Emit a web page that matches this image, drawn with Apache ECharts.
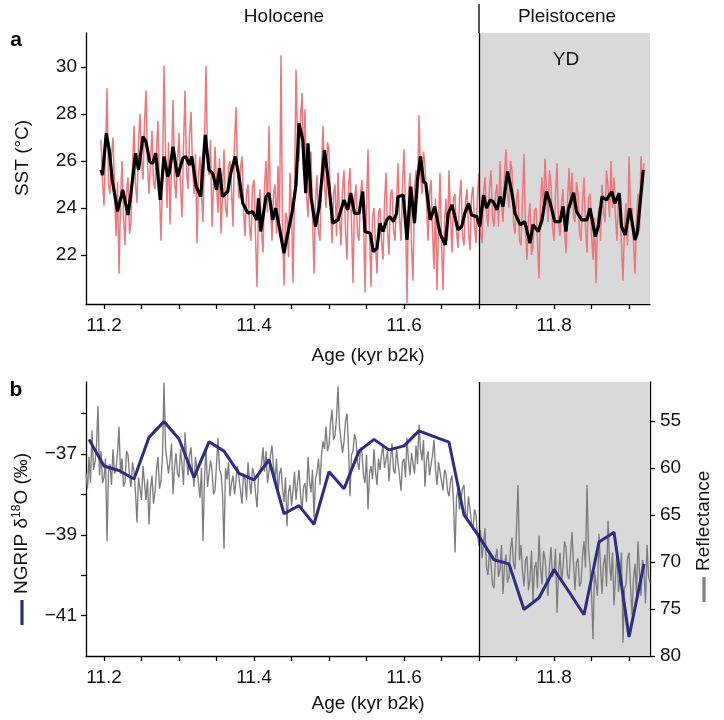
<!DOCTYPE html>
<html>
<head>
<meta charset="utf-8">
<script src="https://cdn.jsdelivr.net/npm/echarts@6/dist/echarts.min.js"></script>
<style>html,body{margin:0;padding:0;background:#fff}#c{width:724px;height:720px}</style>
</head>
<body>
<div id="c"></div>
<script>
// ---------- DATA ----------
// Panel a: SST high-resolution record (red), one value every 0.002 kyr from 11.196
const redStartAge = 11.196;
const redStep = 0.002;
const redSST = [
 26.9,25.2,24.1,26.4,29.1,25.0,24.6,26.2,27.0,24.9,22.8,25.1,21.2,24.3,26.0,23.7,22.4,24.6,25.3,22.9,
 23.4,25.8,27.5,25.0,24.2,26.8,28.0,26.1,25.2,27.6,29.0,25.8,24.6,26.0,27.3,25.1,24.8,26.5,27.7,24.6,
 22.6,25.4,30.05,26.4,24.0,26.8,23.3,25.9,28.6,25.2,24.4,26.0,27.2,24.9,23.6,26.6,29.0,25.6,24.8,27.0,
 28.1,25.8,24.6,26.3,22.5,25.4,26.2,24.6,23.4,26.8,30.05,26.0,25.4,26.9,23.2,24.9,26.6,25.0,23.8,26.1,
 22.9,24.7,26.5,24.0,23.6,25.8,26.0,24.8,23.2,26.7,28.3,25.6,24.4,25.7,26.2,23.9,22.8,24.6,25.0,23.2,
 22.6,24.9,25.2,22.8,20.65,24.0,24.8,23.0,22.1,24.9,26.0,23.8,27.5,24.0,22.6,24.6,25.0,22.9,25.8,23.4,
 30.5,23.2,20.7,23.8,23.6,21.9,25.5,23.9,20.8,24.6,29.9,27.0,26.0,27.8,28.9,25.6,28.2,24.6,23.6,25.8,
 26.4,23.6,21.2,24.4,25.4,23.0,22.6,25.6,27.5,25.0,24.0,26.8,26.4,24.2,22.5,24.6,25.0,22.8,25.5,23.6,
 22.4,24.8,25.6,23.0,21.8,24.9,25.7,23.4,20.8,24.4,25.0,22.9,22.6,24.6,25.2,23.6,20.4,24.0,26.5,22.8,
 20.65,23.6,24.0,22.4,21.2,23.8,24.0,22.6,21.8,24.2,25.5,23.0,22.0,24.6,24.8,23.1,22.6,24.2,25.9,23.6,
 22.6,25.0,26.5,23.8,19.95,24.6,25.5,22.4,20.9,24.8,25.6,24.4,27.96,25.4,24.6,26.4,25.8,24.2,22.6,24.6,
 25.2,23.0,21.4,24.4,20.5,23.2,25.5,22.6,20.5,23.4,24.4,22.6,25.6,23.6,22.1,24.4,24.6,23.0,22.3,24.4,
 25.2,22.8,22.4,24.3,24.8,23.0,22.2,24.5,24.9,23.2,22.5,24.6,25.5,23.0,22.5,24.6,25.3,23.8,23.2,24.9,
 25.6,23.6,23.2,24.6,25.0,23.2,26.0,24.2,23.4,25.4,26.5,24.6,24.0,26.0,25.6,23.4,22.9,24.4,24.8,22.6,
 22.4,24.4,26.3,23.0,21.8,23.6,24.2,22.0,22.4,23.9,24.0,22.6,21.0,24.2,25.3,23.8,26.1,24.8,23.4,25.6,
 25.0,23.2,22.6,24.6,25.9,23.4,22.8,24.2,24.8,23.0,22.07,24.3,25.7,24.0,25.5,23.6,23.4,25.1,24.6,23.0,
 22.6,24.2,25.3,23.2,22.1,24.4,24.6,22.9,21.8,23.6,20.8,23.4,24.0,22.6,25.0,23.8,23.4,25.6,24.9,23.6,
 26.0,24.0,25.3,23.6,22.6,24.6,23.8,22.4,20.9,23.2,24.2,22.4,26.2,23.8,24.0,22.6,21.2,23.4,24.6,23.0,
 26.2,24.8,25.9
];
// Panel a: smoothed SST (black)
const blackAge = [
 11.196,11.198,11.203,11.207,11.211,11.218,11.225,11.232,11.236,11.242,
 11.246,11.252,11.256,11.261,11.265,11.269,11.275,11.280,11.285,11.287,
 11.292,11.298,11.305,11.309,11.314,11.317,11.323,11.329,11.335,11.340,
 11.345,11.350,11.354,11.358,11.365,11.369,11.375,11.380,11.385,11.392,
 11.398,11.404,11.406,11.409,11.416,11.420,11.425,11.429,11.436,11.440,
 11.445,11.451,11.456,11.460,11.465,11.469,11.472,11.476,11.482,11.487,
 11.494,11.500,11.505,11.512,11.516,11.520,11.525,11.529,11.534,11.540,
 11.545,
 11.548,11.555,11.559,11.564,11.568,11.572,11.577,11.581,11.586,11.590,
 11.592,11.599,11.604,11.609,11.614,11.618,11.622,11.626,11.629,11.635,
 11.641,11.648,11.655,11.659,11.664,11.672,11.677,11.681,11.686,11.690,
 11.697,11.701,11.706,11.710,11.715,11.719,11.724,11.728,11.732,11.738,
 11.744,11.748,11.755,11.761,11.768,11.772,11.779,11.784,11.790,11.795,
 11.801,11.808,11.812,11.816,11.819,11.826,11.830,11.837,11.844,11.848,
 11.855,11.859,11.864,11.870,11.877,11.881,11.887,11.890,11.895,11.901,
 11.908,11.911,11.919
];
const blackSST = [
 25.62,25.4,27.18,26.47,25.2,23.85,24.77,23.7,24.63,26.33,
 25.62,27.04,26.82,25.97,25.9,26.33,24.34,26.19,25.33,25.48,
 26.61,25.33,26.11,26.19,25.83,26.19,24.91,24.48,27.11,25.62,
 25.48,24.77,25.69,24.48,24.7,25.48,26.19,25.33,24.2,23.77,
 23.85,23.49,24.41,23.0,24.48,24.63,23.49,23.99,22.78,22.07,
 22.92,23.85,24.98,27.6,26.9,24.63,26.75,24.48,23.21,24.06,
 26.47,24.91,23.35,23.49,23.92,24.34,23.92,24.63,23.77,23.77,
 24.7,
 23.0,22.92,22.14,22.28,23.35,23.0,23.49,23.63,23.42,23.77,
 24.48,24.55,22.64,24.91,23.35,25.19,26.19,25.12,25.05,23.49,
 24.06,22.92,22.43,23.77,24.13,23.07,23.21,23.77,24.2,23.7,
 23.63,23.21,24.55,23.99,24.34,24.27,23.92,24.48,24.06,25.55,
 24.63,23.77,23.28,23.42,22.5,23.28,23.0,23.49,24.7,24.2,
 23.42,23.42,24.06,23.0,23.92,24.65,23.85,23.49,23.49,23.99,
 22.78,23.21,24.48,24.34,24.7,24.2,24.63,23.21,22.85,23.99,
 22.64,22.92,25.62
];
// Panel b: reflectance (grey), one value every 0.002 kyr from 11.176
const reflStartAge = 11.176;
const reflStep = 0.002;
const reflectance = [
 60.5,62.2,58.8,61.6,56.0,60.2,59.4,57.6,53.4,60.8,58.2,61.6,61.0,59.0,67.8,60.4,59.6,61.8,58.0,60.6,
 60.2,58.4,55.6,60.6,59.0,62.0,61.5,58.2,58.6,60.8,62.0,59.4,60.4,62.6,65.8,61.0,61.2,63.4,59.8,61.6,
 63.4,61.2,66.0,62.2,60.8,63.8,62.6,60.2,58.8,62.2,61.4,58.6,50.9,57.8,57.6,60.6,59.2,57.4,62.8,60.0,
 58.4,60.6,61.0,58.0,59.6,61.8,56.2,59.0,60.8,58.6,57.8,60.4,62.0,58.8,59.0,61.6,63.2,60.0,67.8,61.0,
 58.0,62.0,61.8,59.2,60.2,62.8,62.4,59.6,56.8,60.2,60.6,62.6,68.6,60.0,61.2,59.4,63.0,61.6,60.8,62.8,
 62.6,59.8,60.0,62.4,63.8,60.6,61.2,63.4,59.4,61.4,62.8,60.0,60.6,62.6,64.2,60.8,61.0,59.6,57.8,60.4,
 58.2,61.6,60.4,58.6,57.6,60.0,61.2,59.0,62.8,60.6,60.0,62.2,63.6,61.0,66.2,62.6,61.8,64.0,62.4,60.4,
 63.4,61.6,60.2,62.8,64.6,62.0,61.6,63.6,58.8,61.4,62.6,60.2,65.2,61.2,60.4,59.0,61.8,58.6,57.2,58.0,
 55.6,58.2,57.6,55.2,53.8,57.0,56.6,54.6,51.3,55.6,55.8,58.4,57.2,55.0,54.2,57.8,63.0,58.6,58.2,56.4,
 57.0,59.4,60.2,57.8,58.4,60.8,61.6,58.6,64.4,60.6,59.8,61.2,58.0,60.4,61.8,59.0,60.2,58.6,57.6,60.0,
 59.8,58.2,61.4,59.0,57.4,60.2,60.6,58.0,58.2,60.8,62.4,59.4,59.0,61.0,56.8,59.2,60.8,58.4,58.6,60.6,
 57.6,59.6,55.4,58.0,59.2,57.0,62.0,59.2,58.2,60.8,60.6,58.6,57.0,60.2,61.8,59.4,59.6,61.4,62.4,60.2,
 60.6,62.4,63.0,61.4,60.8,63.6,69.0,63.2,62.2,64.4,64.6,62.2,61.8,64.8,65.4,63.0,63.2,65.8,66.6,64.4,
 65.0,67.2,68.2,66.6,69.6,68.0,66.4,70.6,71.4,68.8,70.2,72.4,72.8,69.6,68.6,71.6,70.8,68.2,73.4,70.4,
 69.2,72.2,71.6,68.6,67.4,70.2,70.8,66.4,61.8,69.8,68.2,71.0,72.6,69.8,69.4,73.0,71.8,68.8,74.2,70.6,
 70.0,72.8,67.2,70.6,72.4,68.8,69.6,71.8,73.6,70.4,68.4,71.6,71.2,68.6,75.4,71.2,69.0,72.2,70.6,67.8,
 68.4,71.4,71.8,69.2,66.8,70.2,73.0,70.0,69.6,72.6,72.2,69.4,67.8,70.6,61.8,68.6,70.4,73.2,78.2,71.0,
 70.8,73.6,67.0,70.4,73.4,70.2,69.2,72.6,65.6,70.0,72.0,69.0,74.6,71.6,68.8,73.2,71.4,69.0,78.6,72.8,
 72.4,69.6,69.0,72.6,75.6,71.8,70.2,73.4,67.8,71.2,73.6,69.8,71.0,74.4,68.2,71.4,72.2
];
// Panel b: NGRIP d18O (blue)
const ngripAge = [
 11.18,11.20,11.22,11.24,11.26,11.28,11.30,11.32,11.34,11.36,
 11.38,11.40,11.42,11.44,11.46,11.48,11.50,11.52,11.54,11.56,
 11.58,11.60,11.62,11.64,11.66,11.68,11.70,11.72,11.74,11.76,
 11.78,11.80,11.82,11.84,11.86,11.88,11.90,11.92
];
const ngripD18O = [
 -36.64,-37.30,-37.41,-37.62,-36.59,-36.20,-36.63,-37.58,-36.70,-36.93,
 -37.48,-37.64,-37.15,-38.48,-38.28,-38.74,-37.44,-37.86,-36.93,-36.64,
 -36.90,-36.80,-36.43,-36.57,-36.71,-38.51,-39.04,-39.62,-39.72,-40.85,
 -40.56,-39.86,-40.41,-40.98,-39.18,-38.94,-41.53,-39.72
];
// Axis ticks / labels
const ageLabels = [11.2, 11.4, 11.6, 11.8];
const ageTicks = [11.2,11.25,11.3,11.35,11.4,11.45,11.5,11.55,11.6,11.65,11.7,11.75,11.8,11.85,11.9];
const sstTicks = [22, 24, 26, 28, 30];
const d18OTicks = [-41, -40, -39, -38, -37, -36];
const d18OLabels = [-41, -39, -37];
const reflTicks = [55, 60, 65, 70, 75, 80];
const ydStart = 11.7;

// ---------- CHART ----------
const FONT = '"Liberation Sans", Arial, Helvetica, sans-serif';
const FS = 19;
const TXT = '#111';
const AX = { color: '#000', width: 1.3 };
const ageMin = 11.176, ageMax = 11.928;

function xAxisCfg(gi, gap) {
  return {
    gridIndex: gi, type: 'value', min: ageMin, max: ageMax,
    name: 'Age (kyr b2k)', nameLocation: 'middle', nameGap: gap,
    nameTextStyle: { fontSize: FS, color: TXT, fontFamily: FONT },
    axisLine: { show: true, onZero: false, lineStyle: AX },
    axisTick: { show: true, length: 5, customValues: ageTicks, lineStyle: AX },
    axisLabel: { customValues: ageLabels, formatter: v => v.toFixed(1), fontSize: FS, color: TXT, fontFamily: FONT, margin: 12 },
    splitLine: { show: false }
  };
}

const redData = redSST.map((v, i) => [redStartAge + i * redStep, v]);
const blackData = blackAge.map((a, i) => [a, blackSST[i]]);
const reflData = reflectance.map((v, i) => [reflStartAge + i * reflStep, v]);
const ngripData = ngripAge.map((a, i) => [a, ngripD18O[i]]);

const chart = echarts.init(document.getElementById('c'), null, { renderer: 'canvas' });
const option = {
  animation: false,
  backgroundColor: '#fff',
  grid: [
    { left: 86, right: 74, top: 33, height: 271 },
    { left: 86, right: 74, top: 382, height: 274 }
  ],
  xAxis: [xAxisCfg(0, 42), xAxisCfg(1, 38)],
  yAxis: [
    {
      gridIndex: 0, type: 'value', min: 19.91, max: 31.45,
      axisLine: { show: true, lineStyle: AX },
      axisTick: { show: true, length: 5, customValues: sstTicks, lineStyle: AX },
      axisLabel: { customValues: sstTicks, fontSize: FS, color: TXT, fontFamily: FONT, margin: 9 },
      splitLine: { show: false }
    },
    {
      gridIndex: 1, type: 'value', min: -42, max: -35.22,
      axisLine: { show: true, onZero: false, lineStyle: AX },
      axisTick: { show: true, length: 5, customValues: d18OTicks, lineStyle: AX },
      axisLabel: { customValues: d18OLabels, formatter: v => '\u2212' + Math.abs(v), fontSize: FS, color: TXT, fontFamily: FONT, margin: 9 },
      splitLine: { show: false }
    },
    {
      gridIndex: 1, type: 'value', position: 'right', inverse: true, min: 50.85, max: 80,
      axisLine: { show: true, onZero: false, lineStyle: AX },
      axisTick: { show: true, length: 5, customValues: reflTicks, lineStyle: AX },
      axisLabel: { customValues: reflTicks, fontSize: FS, color: TXT, fontFamily: FONT, margin: 10 },
      splitLine: { show: false }
    }
  ],
  series: [
    { type: 'line', xAxisIndex: 0, yAxisIndex: 0, data: [], z: 1, silent: true,
      markArea: { silent: true, itemStyle: { color: '#d9d9d9' }, data: [[{ xAxis: ydStart }, { xAxis: ageMax }]] } },
    { type: 'line', xAxisIndex: 0, yAxisIndex: 0, data: [], z: 2, silent: true,
      markLine: { silent: true, symbol: 'none', label: { show: false }, lineStyle: { color: '#000', width: 1.3, type: 'solid' }, data: [{ xAxis: ydStart }] } },
    { name: 'SST', type: 'line', xAxisIndex: 0, yAxisIndex: 0, data: redData, z: 3,
      showSymbol: false, lineStyle: { color: '#ec777d', width: 1.5 } },
    { name: 'SST smoothed', type: 'line', xAxisIndex: 0, yAxisIndex: 0, data: blackData, z: 4,
      showSymbol: false, lineStyle: { color: '#000', width: 3.2 } },
    { type: 'line', xAxisIndex: 1, yAxisIndex: 1, data: [], z: 1, silent: true,
      markArea: { silent: true, itemStyle: { color: '#d9d9d9' }, data: [[{ xAxis: ydStart }, { xAxis: ageMax }]] } },
    { type: 'line', xAxisIndex: 1, yAxisIndex: 1, data: [], z: 2, silent: true,
      markLine: { silent: true, symbol: 'none', label: { show: false }, lineStyle: { color: '#000', width: 1.3, type: 'solid' }, data: [{ xAxis: ydStart }] } },
    { name: 'Reflectance', type: 'line', xAxisIndex: 1, yAxisIndex: 2, data: reflData, z: 3,
      showSymbol: false, lineStyle: { color: '#7d7d7d', width: 1.35 } },
    { name: 'NGRIP d18O', type: 'line', xAxisIndex: 1, yAxisIndex: 1, data: ngripData, z: 4,
      showSymbol: false, lineStyle: { color: '#2e2c83', width: 3 } }
  ]
};
chart.setOption(option);

const ydX = chart.convertToPixel({ xAxisIndex: 0 }, ydStart);
const topA = chart.convertToPixel({ yAxisIndex: 0 }, 31.45);
const txt = (t, x, y, extra) => ({ type: 'text', x: x, y: y, z: 10,
  style: Object.assign({ text: t, font: FS + 'px ' + FONT, fill: TXT, align: 'center', verticalAlign: 'middle' }, extra || {}) });

chart.setOption({
  graphic: [
    { type: 'line', z: 10, shape: { x1: ydX, y1: 4, x2: ydX, y2: topA }, style: { stroke: '#000', lineWidth: 1.3 } },
    txt('a', 16, 40, { font: 'bold 21px ' + FONT, fill: '#000' }),
    txt('b', 16, 390, { font: 'bold 21px ' + FONT, fill: '#000' }),
    txt('Holocene', 284, 17),
    txt('Pleistocene', 567, 17),
    txt('YD', 566, 60),
    { type: 'group', x: 23, y: 158, rotation: Math.PI / 2, z: 10,
      children: [ txt('SST (\u00B0C)', 0, 0) ] },
    { type: 'group', x: 22, y: 625, rotation: Math.PI / 2, z: 10,
      children: [
        { type: 'rect', shape: { x: 0, y: -1.6, width: 25, height: 3.2 }, style: { fill: '#2e2c83' } },
        { type: 'text', x: 31, y: 0, style: {
            text: '{n|NGRIP \u03B4}{s|18}{n|O (\u2030)}', align: 'left', verticalAlign: 'middle',
            rich: {
              n: { fontSize: FS, fontFamily: FONT, fill: TXT, lineHeight: 22 },
              s: { fontSize: 12, fontFamily: FONT, fill: TXT, lineHeight: 22, verticalAlign: 'top' }
            } } }
      ] },
    { type: 'group', x: 704, y: 602, rotation: Math.PI / 2, z: 10,
      children: [
        { type: 'rect', shape: { x: 0, y: -1.6, width: 25, height: 3.2 }, style: { fill: '#808080' } },
        { type: 'text', x: 31, y: 0, style: { text: 'Reflectance', font: FS + 'px ' + FONT, fill: TXT, align: 'left', verticalAlign: 'middle' } }
      ] }
  ]
});
</script>
</body>
</html>
